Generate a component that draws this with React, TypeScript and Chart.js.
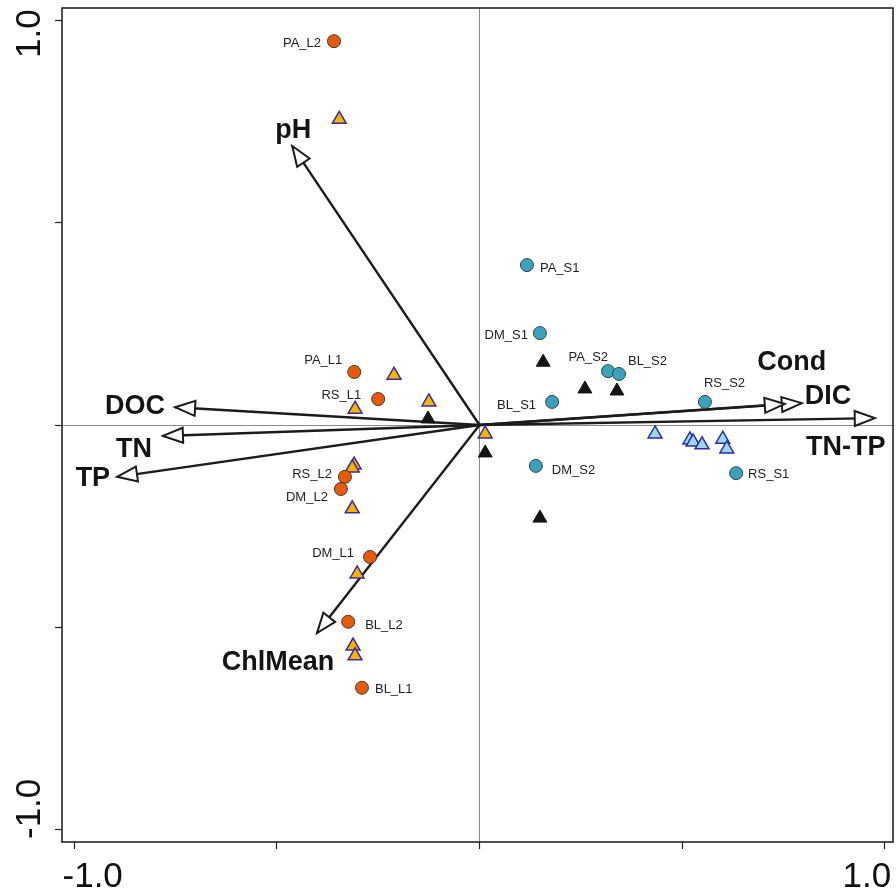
import React, { useEffect, useRef } from 'react';
import { Chart, registerables } from 'chart.js';

Chart.register(...registerables);

// Lake sites (circles)
const lakeSites = ['PA_L2', 'PA_L1', 'RS_L1', 'RS_L2', 'DM_L2', 'DM_L1', 'BL_L2', 'BL_L1'];
const lakeX = [-0.359, -0.309, -0.25, -0.332, -0.342, -0.27, -0.324, -0.29];
const lakeY = [0.948, 0.131, 0.064, -0.128, -0.158, -0.326, -0.486, -0.649];

// Stream sites (circles)
const streamSites = ['PA_S1', 'DM_S1', 'PA_S2', 'BL_S2', 'BL_S1', 'DM_S2', 'RS_S2', 'RS_S1'];
const streamX = [0.117, 0.149, 0.317, 0.344, 0.179, 0.139, 0.556, 0.633];
const streamY = [0.395, 0.227, 0.133, 0.126, 0.057, -0.101, 0.057, -0.119];

// Taxa scores (triangles)
const lakeTaxaX = [-0.346, -0.211, -0.125, -0.307, 0.014, -0.309, -0.314, -0.314, -0.302, -0.312, -0.307];
const lakeTaxaY = [0.755, 0.123, 0.057, 0.039, -0.022, -0.099, -0.106, -0.207, -0.368, -0.546, -0.57];
const streamTaxaX = [0.433, 0.519, 0.527, 0.549, 0.6, 0.61];
const streamTaxaY = [-0.022, -0.037, -0.042, -0.049, -0.035, -0.059];
const sharedTaxaX = [-0.127, 0.014, 0.157, 0.26, 0.339, 0.149];
const sharedTaxaY = [0.015, -0.069, 0.155, 0.089, 0.084, -0.23];

// Environmental vectors
const envVars = ['pH', 'DOC', 'TN', 'TP', 'ChlMean', 'Cond', 'DIC', 'TN-TP'];
const envX = [-0.462, -0.751, -0.781, -0.894, -0.401, 0.753, 0.795, 0.975];
const envY = [0.689, 0.044, -0.027, -0.128, -0.514, 0.052, 0.054, 0.017];

// Axis ticks
const axisTicks = [-1, -0.5, 0, 0.5, 1];
const axisTickLabels = ['-1.0', '', '', '', '1.0'];

// Label placement: [dx, dy, align] in pixels from the marker
type Place = [number, number, CanvasTextAlign];
const lakeLabelPlace: Place[] = [
  [-13, 2, 'right'], [-12, -12, 'right'], [-17, -4, 'right'], [-13, -2, 'right'],
  [-13, 8, 'right'], [-16, -4, 'right'], [17, 4, 'left'], [13, 2, 'left'],
];
const streamLabelPlace: Place[] = [
  [13, 3, 'left'], [-12, 2, 'right'], [0, -14, 'right'], [9, -13, 'left'],
  [-16, 3, 'right'], [16, 5, 'left'], [-1, -19, 'left'], [12, 1, 'left'],
];
const envLabelPlace: Place[] = [
  [1, -16, 'center'], [-10, -1, 'right'], [-29, 14, 'center'], [-7, 2, 'right'],
  [-39, 29, 'center'], [7, -41, 'center'], [3, -7, 'left'], [-29, 29, 'center'],
];
// tick label shift along the axis (px), per tick
const xTickLabelShift = [18.5, 0, 0, 0, -18];
const yTickLabelShift = [-21, 0, 0, 0, 13.5];

const FONT = '"Liberation Sans", Arial, Helvetica, sans-serif';

const toPoints = (xs: number[], ys: number[]) => xs.map((x, i) => ({ x, y: ys[i] }));

export default function App() {
  const ref = useRef<HTMLCanvasElement>(null);

  useEffect(() => {
    const canvas = ref.current;
    if (!canvas) return;

    const overlay = {
      id: 'biplotOverlay',
      afterDatasetDraw(chart: any, args: any) {
        const ds: any = chart.data.datasets[args.index];
        if (ds.envIndex === undefined) return;
        const i = ds.envIndex;
        const sx = chart.scales.x;
        const sy = chart.scales.y;
        const ox = sx.getPixelForValue(0);
        const oy = sy.getPixelForValue(0);
        const tx = sx.getPixelForValue(envX[i]);
        const ty = sy.getPixelForValue(envY[i]);
        const len = Math.hypot(tx - ox, ty - oy);
        const ux = (tx - ox) / len;
        const uy = (ty - oy) / len;
        const L = 20;
        const W = 7.5;
        const bx = tx - ux * L;
        const by = ty - uy * L;
        const ctx = chart.ctx;
        ctx.save();
        ctx.beginPath();
        ctx.moveTo(tx, ty);
        ctx.lineTo(bx - uy * W, by + ux * W);
        ctx.lineTo(bx + uy * W, by - ux * W);
        ctx.closePath();
        ctx.fillStyle = '#ffffff';
        ctx.fill();
        ctx.lineWidth = 2;
        ctx.lineJoin = 'miter';
        ctx.strokeStyle = '#1c1c1c';
        ctx.stroke();
        ctx.restore();
      },
      afterDatasetsDraw(chart: any) {
        const ctx = chart.ctx;
        const sx = chart.scales.x;
        const sy = chart.scales.y;
        ctx.save();
        ctx.textBaseline = 'middle';
        ctx.fillStyle = '#222222';
        ctx.font = `13px ${FONT}`;
        const siteText = (names: string[], xs: number[], ys: number[], place: Place[]) => {
          names.forEach((n, i) => {
            const [dx, dy, al] = place[i];
            ctx.textAlign = al;
            ctx.fillText(n, sx.getPixelForValue(xs[i]) + dx, sy.getPixelForValue(ys[i]) + dy);
          });
        };
        siteText(lakeSites, lakeX, lakeY, lakeLabelPlace);
        siteText(streamSites, streamX, streamY, streamLabelPlace);

        ctx.font = `bold 27px ${FONT}`;
        ctx.fillStyle = '#141414';
        envVars.forEach((n, i) => {
          const [dx, dy, al] = envLabelPlace[i];
          ctx.textAlign = al;
          ctx.fillText(n, sx.getPixelForValue(envX[i]) + dx, sy.getPixelForValue(envY[i]) + dy);
        });
        ctx.restore();
      },
      afterDraw(chart: any) {
        const ctx = chart.ctx;
        const a = chart.chartArea;
        const sx = chart.scales.x;
        const sy = chart.scales.y;
        ctx.save();
        // frame
        ctx.strokeStyle = '#262626';
        ctx.lineWidth = 1.6;
        ctx.strokeRect(a.left, a.top, a.right - a.left, a.bottom - a.top);
        // tick labels
        ctx.fillStyle = '#111111';
        ctx.font = `35px ${FONT}`;
        ctx.textAlign = 'center';
        ctx.textBaseline = 'alphabetic';
        axisTicks.forEach((v, i) => {
          const t = axisTickLabels[i];
          if (!t) return;
          ctx.fillText(t, sx.getPixelForValue(v) + xTickLabelShift[i], a.bottom + 45);
        });
        axisTicks.forEach((v, i) => {
          const t = axisTickLabels[i];
          if (!t) return;
          ctx.save();
          ctx.translate(40, sy.getPixelForValue(v) + yTickLabelShift[i]);
          ctx.rotate(-Math.PI / 2);
          ctx.fillText(t, 0, 0);
          ctx.restore();
        });
        ctx.restore();
      },
    };

    const triangle = (data: any[], fill: string, stroke: string, bw: number) => ({
      data,
      pointStyle: 'triangle',
      pointRadius: 8,
      pointBackgroundColor: fill,
      pointBorderColor: stroke,
      pointBorderWidth: bw,
      order: 1,
    });
    const circle = (data: any[], fill: string, stroke: string) => ({
      data,
      pointStyle: 'circle',
      pointRadius: 6.5,
      pointBackgroundColor: fill,
      pointBorderColor: stroke,
      pointBorderWidth: 1,
      order: 0,
    });

    const arrowSets = envVars.map((name, i) => ({
      label: name,
      data: [{ x: 0, y: 0 }, { x: envX[i], y: envY[i] }],
      showLine: true,
      pointRadius: 0,
      borderColor: '#1c1c1c',
      borderWidth: 2.4,
      fill: false,
      order: 10,
      envIndex: i,
    }));

    const gridOpts = {
      color: (c: any) => (c.tick && c.tick.value === 0 ? '#8a8a8a' : 'rgba(0,0,0,0)'),
      lineWidth: 1,
      drawTicks: true,
      tickLength: 7,
      tickColor: '#262626',
      tickWidth: 1.2,
    };

    const chart = new Chart(canvas, {
      type: 'scatter',
      data: {
        datasets: [
          circle(toPoints(streamX, streamY), '#3AA3B9', '#2c4650'),
          circle(toPoints(lakeX, lakeY), '#E65A0C', '#4a372c'),
          triangle(toPoints(lakeTaxaX, lakeTaxaY), '#F6B400', '#3C2C9C', 1.5),
          triangle(toPoints(streamTaxaX, streamTaxaY), '#98D8EA', '#2D2FA0', 1.5),
          triangle(toPoints(sharedTaxaX, sharedTaxaY), '#141414', '#141414', 1),
          ...arrowSets,
        ] as any,
      },
      options: {
        responsive: false,
        animation: false,
        events: [],
        layout: { autoPadding: false, padding: { top: 8, right: 3, left: 0, bottom: 0 } },
        plugins: { legend: { display: false }, tooltip: { enabled: false } },
        scales: {
          x: {
            type: 'linear',
            min: -1.03,
            max: 1.02,
            afterBuildTicks: (s: any) => { s.ticks = axisTicks.map((v) => ({ value: v })); },
            afterFit: (s: any) => { s.height = 53; },
            ticks: { display: false },
            grid: gridOpts,
            border: { display: false },
          },
          y: {
            type: 'linear',
            min: -1.03,
            max: 1.03,
            afterBuildTicks: (s: any) => { s.ticks = axisTicks.map((v) => ({ value: v })); },
            afterFit: (s: any) => { s.width = 62; },
            ticks: { display: false },
            grid: gridOpts,
            border: { display: false },
          },
        },
      } as any,
      plugins: [overlay],
    });

    return () => chart.destroy();
  }, []);

  return (
    <div style={{ position: 'absolute', left: 0, top: 0, width: 896, height: 895, background: '#ffffff' }}>
      <canvas ref={ref} width={896} height={895} style={{ display: 'block' }} />
    </div>
  );
}
